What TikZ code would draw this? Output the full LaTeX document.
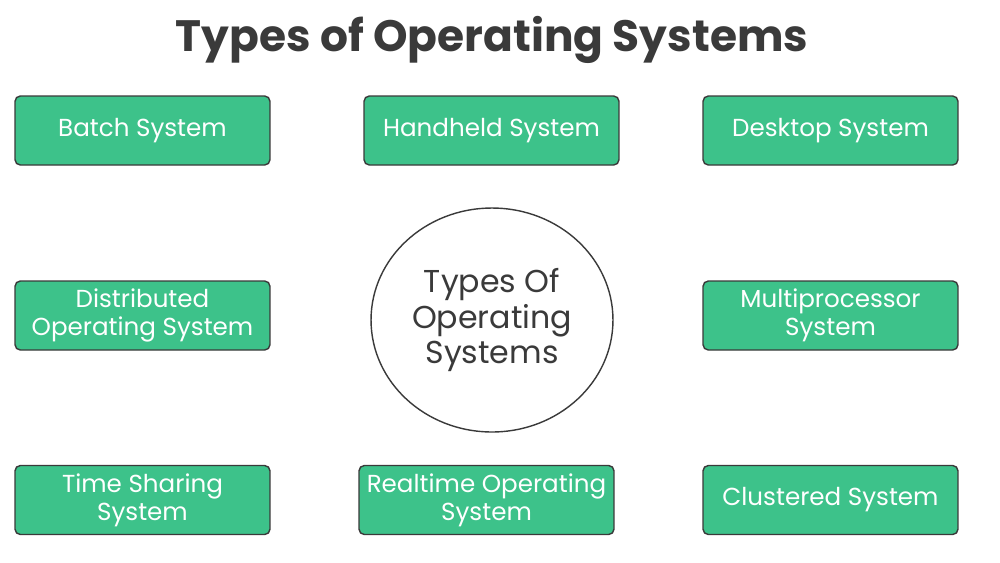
\documentclass[tikz,border=0pt]{standalone}
\usepackage{fontspec}
\setmainfont{Poppins}
\usepackage{tikz}
\usetikzlibrary{shapes.geometric}
\definecolor{osgreen}{HTML}{3DC28A}
\definecolor{ostext}{HTML}{3A3A3A}
\begin{document}
\begin{tikzpicture}[x=0.02cm, y=-0.02cm,
  osbox/.style={draw=ostext, line width=0.8pt, fill=osgreen, rounded corners=3pt,
    minimum width=5.1cm, minimum height=1.38cm, align=center, text=white,
    font=\fontsize{14}{16}\selectfont, inner sep=0pt}]
			\useasboundingbox[fill=white] (0, 0) rectangle (1000, 562);
			\node[font=\bfseries\fontsize{25}{30}\selectfont, text=ostext] (title) at (492, 40) {Types of Operating Systems};

			\node[draw=ostext, line width=0.8pt, ellipse, inner sep=0pt, minimum width=4.84cm, minimum height=4.48cm,
			  align=center, text=ostext, font=\fontsize{18}{20}\selectfont] (core) at (492, 320) {Types Of\\Operating\\Systems};

			\node[osbox] (batch) at (142.5, 130.5) {Batch System};
			\node[osbox] (handheld) at (491.5, 130.5) {Handheld System};
			\node[osbox] (desktop) at (830.5, 130.5) {Desktop System};
			\node[osbox] (distributed) at (142.5, 315.5) {Distributed\\Operating System};
			\node[osbox] (multi) at (830.5, 315.5) {Multiprocessor\\System};
			\node[osbox] (timeshare) at (142.5, 500) {Time Sharing\\System};
			\node[osbox] (realtime) at (486.5, 500) {Realtime Operating\\System};
			\node[osbox] (cluster) at (830.5, 500) {Clustered System};
		\end{tikzpicture}
\end{document}
